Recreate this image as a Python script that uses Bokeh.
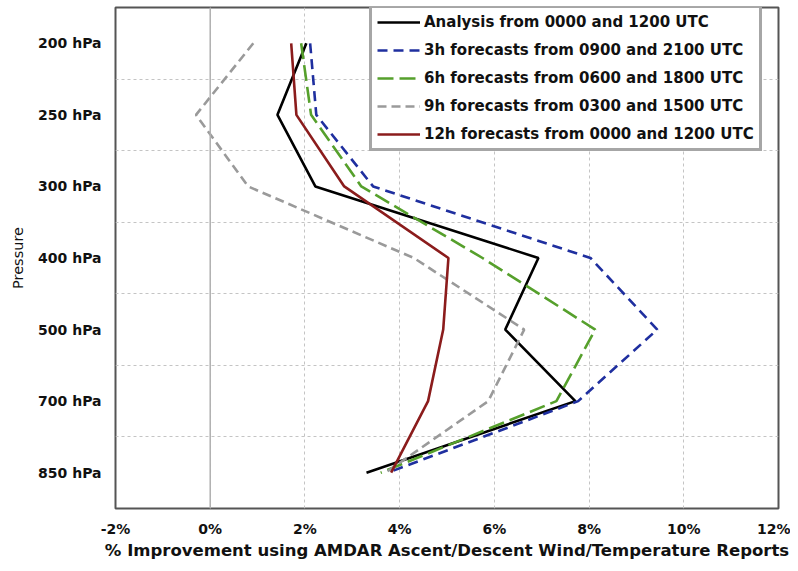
from bokeh.plotting import figure
from bokeh.models import FixedTicker, Range1d, Span, Legend, LegendItem
from bokeh.embed import file_html
from bokeh.resources import INLINE

levels = ["200 hPa", "250 hPa", "300 hPa", "400 hPa", "500 hPa", "700 hPa", "850 hPa"]
analysis = [2.03, 1.42, 2.22, 6.93, 6.23, 7.71, 3.30]
fc3h = [2.11, 2.24, 3.44, 8.03, 9.44, 7.77, 3.75]
fc6h = [1.92, 2.13, 3.19, 5.75, 8.13, 7.31, 3.60]
fc9h = [0.91, -0.30, 0.80, 4.30, 6.63, 5.87, 3.70]
fc12h = [1.71, 1.82, 2.83, 5.03, 4.92, 4.60, 3.82]
x_ticks = [-2, 0, 2, 4, 6, 8, 10, 12]

series = [
    ("Analysis from 0000 and 1200 UTC", analysis, "#000000", "solid"),
    ("3h forecasts from 0900 and 2100 UTC", fc3h, "#1f2f9f", "10 6"),
    ("6h forecasts from 0600 and 1800 UTC", fc6h, "#56a02c", "16 6"),
    ("9h forecasts from 0300 and 1500 UTC", fc9h, "#9a9a9a", "9 5"),
    ("12h forecasts from 0000 and 1200 UTC", fc12h, "#8b1c1c", "solid"),
]

ypos = list(range(len(levels)))
FONT = "DejaVu Sans"

p = figure(width=790, height=563, output_backend="svg", toolbar_location=None,
           x_range=Range1d(-2, 12), y_range=Range1d(len(levels) - 0.5, -0.5),
           min_border_left=115, min_border_right=12, min_border_top=7, min_border_bottom=55)

p.outline_line_color = "#555555"
p.outline_line_width = 2
p.background_fill_color = "white"
p.border_fill_color = "white"

# axes
p.xaxis.ticker = FixedTicker(ticks=x_ticks)
p.xaxis.major_label_overrides = {t: f"{t}%" for t in x_ticks}
p.yaxis.ticker = FixedTicker(ticks=ypos)
p.yaxis.major_label_overrides = {i: lab for i, lab in zip(ypos, levels)}
for ax in (p.xaxis, p.yaxis):
    ax.axis_line_color = None
    ax.major_tick_line_color = None
    ax.minor_tick_line_color = None
    ax.major_tick_out = 0
    ax.major_tick_in = 0
    ax.major_label_text_font = FONT
    ax.major_label_text_font_style = "bold"
    ax.major_label_text_font_size = "14px"
    ax.major_label_text_color = "#111111"
    ax.axis_label_text_font = FONT
    ax.axis_label_text_color = "#111111"

p.xaxis.major_label_standoff = 12
p.xaxis.axis_label = "% Improvement using AMDAR Ascent/Descent Wind/Temperature Reports"
p.xaxis.axis_label_text_font_style = "bold"
p.xaxis.axis_label_text_font_size = "16.5px"
p.xaxis.axis_label_standoff = 1

p.yaxis.major_label_standoff = 14
p.yaxis.axis_label = "Pressure"
p.yaxis.axis_label_text_font_style = "normal"
p.yaxis.axis_label_text_font_size = "14.5px"
p.yaxis.axis_label_standoff = 9

# grids
p.xgrid.ticker = FixedTicker(ticks=x_ticks)
p.xgrid.grid_line_color = "#c4c4c4"
p.xgrid.grid_line_dash = "3 3"
p.xgrid.grid_line_width = 1
p.ygrid.ticker = FixedTicker(ticks=[i + 0.5 for i in ypos[:-1]])
p.ygrid.grid_line_color = "#c4c4c4"
p.ygrid.grid_line_dash = "3 3"
p.ygrid.grid_line_width = 1
p.add_layout(Span(location=0, dimension="height", line_color="#b0b0b0", line_width=1.5))

items = []
for name, vals, color, dash in series:
    r = p.line(vals, ypos, line_color=color, line_width=2.6, line_dash=dash)
    items.append(LegendItem(label=name, renderers=[r]))

legend = Legend(items=items, location=(254, 357))
legend.label_text_font = FONT
legend.label_text_font_style = "bold"
legend.label_text_font_size = "15px"
legend.label_text_color = "#111111"
legend.glyph_width = 43
legend.glyph_height = 14
legend.label_height = 14
legend.label_standoff = 4
legend.spacing = 10
legend.padding = 5
legend.margin = 0
legend.border_line_color = "#4d4d4d"
legend.border_line_width = 3
legend.background_fill_color = "white"
legend.background_fill_alpha = 1
p.add_layout(legend)

open("out.html", "w").write(file_html(p, INLINE))
